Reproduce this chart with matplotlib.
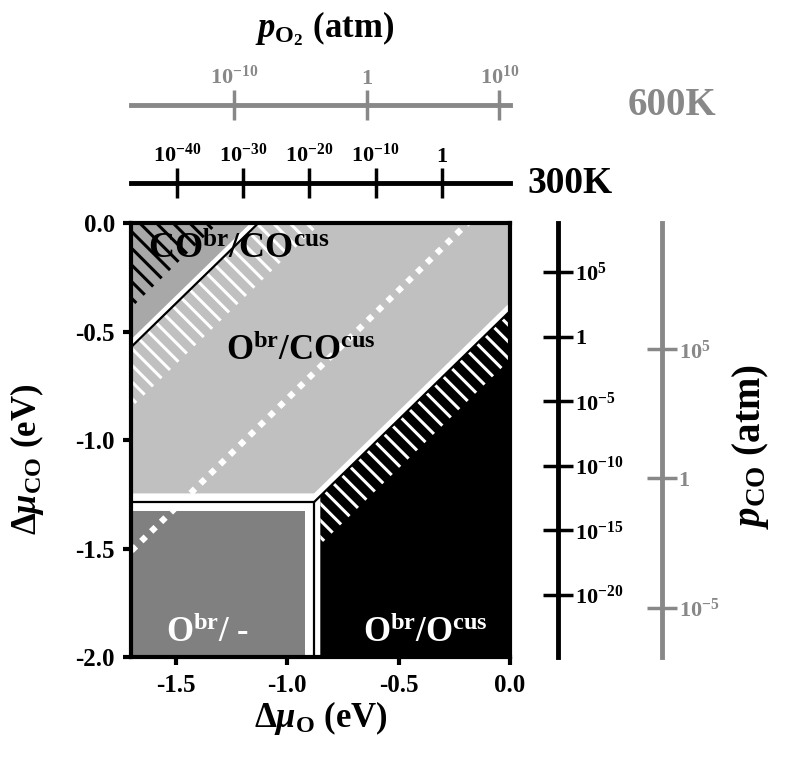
import numpy as np
import matplotlib
matplotlib.use('Agg')
import matplotlib.pyplot as plt

plt.rcParams['font.family'] = ['Liberation Serif', 'DejaVu Serif']
plt.rcParams['font.weight'] = 'bold'
plt.rcParams['axes.labelweight'] = 'bold'
plt.rcParams['mathtext.fontset'] = 'custom'
plt.rcParams['mathtext.rm'] = 'Liberation Serif:bold'
plt.rcParams['mathtext.bf'] = 'Liberation Serif:bold'
plt.rcParams['mathtext.it'] = 'Liberation Serif:italic:bold'
plt.rcParams['mathtext.default'] = 'bf'
plt.rcParams['axes.unicode_minus'] = False
plt.rcParams['hatch.linewidth'] = 2.2

KB = 8.617e-5  # eV/K

# axes ranges (eV)
mu_o_lim = (-1.7, 0.0)
mu_co_lim = (-2.0, 0.0)
mu_o_ticks = [-1.5, -1.0, -0.5, 0.0]
mu_co_ticks = [0.0, -0.5, -1.0, -1.5, -2.0]

# phase boundaries
# triple point O^br/- | O^br/CO^cus | O^br/O^cus
mu_o_v = -0.88
mu_co_h = -1.286
# diagonal boundaries are mu_CO = mu_O + c
c_upper = 1.13          # CO^br/CO^cus | O^br/CO^cus
c_lower = mu_co_h - mu_o_v   # O^br/CO^cus | O^br/O^cus
c_dash = 0.19           # white dashed line
# hatched bands next to the diagonal boundaries
c_hatch_top = 1.31
c_hatch_mid = 0.85
c_hatch_low = -0.63
gap = 0.04              # white margin along the boundaries

# pressure scales: Delta mu at p = 1 atm for each temperature
temps = [300, 600]
mu_o_1atm = [-0.306, -0.643]
mu_co_1atm = [-0.524, -1.177]
po2_ticks = [[-40, -30, -20, -10, 0], [-10, 0, 10]]
pco_ticks = [[5, 0, -5, -10, -15, -20], [5, 0, -5]]

phase_labels = [r'CO$^{br}$/CO$^{cus}$', r'O$^{br}$/CO$^{cus}$',
                r'O$^{br}$/ -', r'O$^{br}$/O$^{cus}$']
phase_pos = [(-1.22, -0.12), (-0.94, -0.59), (-1.36, -1.89), (-0.38, -1.89)]

light = '#c0c0c0'
mid = '#a8a8a8'
dark = '#808080'
grey = '#888888'


def plabel(e):
    return '1' if e == 0 else r'$10^{%d}$' % e


fig = plt.figure(figsize=(7.85, 7.78), dpi=100)
ax = fig.add_axes([0.1675, 0.1555, 0.4822, 0.5578])
ax.set_facecolor(light)
ax.set_xlim(*mu_o_lim)
ax.set_ylim(*mu_co_lim)

x0, x1 = mu_o_lim
y0, y1 = mu_co_lim
xs = np.array([x0, x1])

# lower regions: white margin, black O^br/O^cus, dark grey O^br/-
ax.fill([x0, x0, mu_o_v, x1, x1],
        [y0, mu_co_h + gap, mu_co_h + gap, x1 + c_lower + gap, y0],
        color='white', lw=0, zorder=1)
xv = mu_o_v + gap * 0.7
ax.fill([xv, x1, x1, xv], [y0, y0, x1 + c_lower, xv + c_lower],
        color='black', lw=0, zorder=2)
ax.fill([x0, x0, mu_o_v - gap, mu_o_v - gap],
        [y0, mu_co_h - gap, mu_co_h - gap, y0], color=dark, lw=0, zorder=2)
xs_b = np.array([xv, x1])
ax.fill_between(xs_b, xs_b + c_hatch_low, xs_b + c_lower, facecolor='none',
                edgecolor='white', hatch='\\\\', lw=0, zorder=3)

# upper region CO^br/CO^cus
ax.fill_between(xs, xs + c_upper, 2.0, color='white', lw=0, zorder=1)
ax.fill_between(xs, xs + c_upper + gap, 2.0, color=mid, lw=0, zorder=2)
ax.fill_between(xs, xs + c_hatch_top, 2.0, facecolor='none',
                edgecolor='black', hatch='\\\\', lw=0, zorder=3)
ax.fill_between(xs, xs + c_hatch_mid, xs + c_upper, facecolor='none',
                edgecolor='white', hatch='\\\\', lw=0, zorder=3)

# dashed line
ax.plot(xs, xs + c_dash, color='white', lw=4.5, ls=(0, (1, 1.2)),
        dash_capstyle='butt', zorder=4)

# boundaries
bkw = dict(color='black', lw=1.6, zorder=5, solid_capstyle='butt')
ax.plot([x0, mu_o_v], [mu_co_h, mu_co_h], **bkw)
ax.plot([mu_o_v, mu_o_v], [y0, mu_co_h], **bkw)
ax.plot([mu_o_v, x1], [mu_co_h, x1 + c_lower], **bkw)
ax.plot(xs, xs + c_upper, **bkw)

for i, (lab, (px, py)) in enumerate(zip(phase_labels, phase_pos)):
    ax.text(px, py, lab, ha='center', va='center', zorder=6,
            fontsize=26 if i == 0 else 25,
            color='black' if i < 2 else 'white')

for s in ax.spines.values():
    s.set_linewidth(3)
    s.set_zorder(7)
ax.set_xticks(mu_o_ticks, ['%.1f' % v for v in mu_o_ticks])
ax.set_yticks(mu_co_ticks, ['%.1f' % v for v in mu_co_ticks])
ax.tick_params(direction='out', length=6, width=3, labelsize=18, pad=6)
ax.set_xlabel(r'$\mathit{\Delta\mu}_{\mathrm{O}}$ (eV)', fontsize=25, labelpad=2)
ax.set_ylabel(r'$\mathit{\Delta\mu}_{\mathrm{CO}}$ (eV)', fontsize=25, va='center')
ax.yaxis.set_label_coords(-0.275, 0.455)

# pressure axes
top_loc = [1.092, 1.272]
right_loc = [1.127, 1.4016]
cols = ['black', grey]
for T, mo, mc, pt, ct, tl, rl, col in zip(temps, mu_o_1atm, mu_co_1atm,
                                           po2_ticks, pco_ticks, top_loc,
                                           right_loc, cols):
    so = 0.5 * KB * T * np.log(10)
    sc = KB * T * np.log(10)
    sx = ax.secondary_xaxis(tl, functions=(lambda m, a=mo, b=so: (m - a) / b,
                                           lambda p, a=mo, b=so: a + p * b))
    sx.set_xticks(pt, [plabel(e) for e in pt])
    sx.tick_params(direction='inout', length=21, width=2.5, color=col,
                   labelcolor=col, labelsize=16, pad=1)
    for s in sx.spines.values():
        s.set_linewidth(3.5)
        s.set_color(col)
    sy = ax.secondary_yaxis(rl, functions=(lambda m, a=mc, b=sc: (m - a) / b,
                                           lambda p, a=mc, b=sc: a + p * b))
    sy.set_yticks(ct, [plabel(e) for e in ct])
    sy.tick_params(direction='inout', length=22, width=2.5, color=col,
                   labelcolor=col, labelsize=16, pad=1)
    for s in sy.spines.values():
        s.set_linewidth(3.5)
        s.set_color(col)

ax.text(1.158, 1.092, '300K', transform=ax.transAxes, ha='center',
        va='center', fontsize=27, color='black')
ax.text(1.428, 1.272, '600K', transform=ax.transAxes, ha='center',
        va='center', fontsize=28, color=grey)
ax.text(0.511, 1.449, r'$\mathit{p}_{\mathrm{O_2}}$ (atm)', transform=ax.transAxes,
        ha='center', va='center', fontsize=25)
ax.text(1.634, 0.484, r'$\mathit{p}_{\mathrm{CO}}$ (atm)', transform=ax.transAxes,
        ha='center', va='center', fontsize=28, rotation=90)

fig.savefig('out.png', dpi=100, facecolor='white')
